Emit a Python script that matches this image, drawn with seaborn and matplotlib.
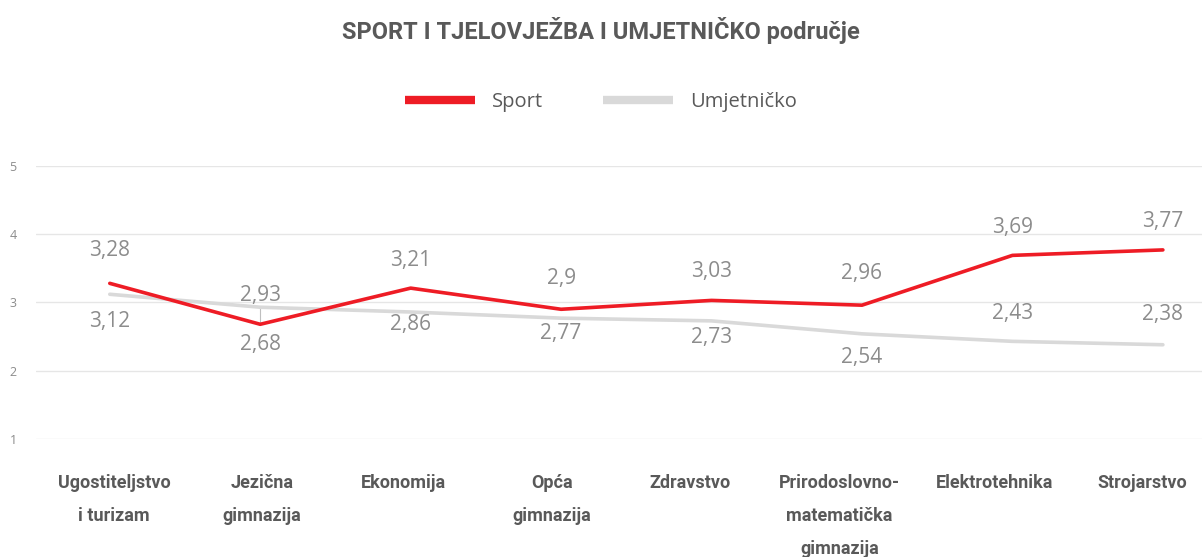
import pandas as pd
import matplotlib.pyplot as plt
import seaborn as sns
from matplotlib.lines import Line2D

# podaci
smjerovi = ['Ugostiteljstvo\ni turizam', 'Jezična\ngimnazija', 'Ekonomija', 'Opća\ngimnazija',
            'Zdravstvo', 'Prirodoslovno-\nmatematička\ngimnazija', 'Elektrotehnika', 'Strojarstvo']
sport = [3.28, 2.68, 3.21, 2.90, 3.03, 2.96, 3.69, 3.77]
umjetnicko = [3.12, 2.93, 2.86, 2.77, 2.73, 2.54, 2.43, 2.38]

# raspored: pomak oznaka (px, + iznad) i položaj natpisa na x osi
sport_pomak = [33, -20, 28, 31, 29, 32, 28, 28]
umj_pomak = [-27, 12, -12, -15, -17, -24, 28, 30]
natpisi_x = [0.03, 1.01, 1.95, 2.94, 3.86, 4.85, 5.88, 6.86]

df = pd.DataFrame({
    'x': list(range(len(smjerovi))) * 2,
    'vrijednost': sport + umjetnicko,
    'serija': ['Sport'] * len(sport) + ['Umjetničko'] * len(umjetnicko),
})

sns.set_theme(style='white')
plt.rcParams['font.family'] = ['Open Sans', 'DejaVu Sans']

crvena = '#EE1C25'
siva = '#D9D9D9'
tekst = '#595959'
oznake = '#8C8C8C'

fig = plt.figure(figsize=(12.02, 5.57), dpi=100)
ax = fig.add_axes([0.03, 0.212, 0.97, 0.49])

sns.lineplot(data=df, x='x', y='vrijednost', hue='serija',
             palette={'Sport': crvena, 'Umjetničko': siva},
             hue_order=['Umjetničko', 'Sport'],
             linewidth=2.6, legend=False, ax=ax)

ax.set_ylim(1, 5)
ax.set_xlim(-0.49, 7.26)
ax.set_yticks([1, 2, 3, 4, 5])
ax.yaxis.grid(True, color='#E6E6E6', linewidth=1)
ax.tick_params(axis='y', labelsize=9, colors='#8C8C8C', length=0, pad=14)
for s in ax.spines.values():
    s.set_visible(False)

ax.set_xticks(natpisi_x)
ax.set_xticklabels(smjerovi, fontsize=13, fontweight='bold', color=tekst,
                   family=['Liberation Sans Narrow', 'Roboto', 'DejaVu Sans'],
                   linespacing=2.1)
ax.tick_params(axis='x', length=0, pad=25)
ax.set_xlabel('')
ax.set_ylabel('')

# oznake vrijednosti
for vals, pomak in [(sport, sport_pomak), (umjetnicko, umj_pomak)]:
    for i, (v, p) in enumerate(zip(vals, pomak)):
        ax.annotate(f'{v:g}'.replace('.', ','), (i, v), xytext=(0, p * 0.72),
                    textcoords='offset points', ha='center', va='center',
                    fontsize=15, color=oznake)

# tanka spojnica kod Jezične gimnazije
ax.plot([1, 1], [sport[1], umjetnicko[1]], color='#BFBFBF', linewidth=0.8, zorder=0)

fig.text(0.5, 0.945, 'SPORT I TJELOVJEŽBA I UMJETNIČKO područje', ha='center', va='center',
         fontsize=17, fontweight='bold', color=tekst,
         family=['Liberation Sans Narrow', 'Roboto', 'DejaVu Sans'])

handles = [Line2D([], [], color=crvena, linewidth=6, solid_capstyle='butt'),
           Line2D([], [], color=siva, linewidth=6, solid_capstyle='butt')]
fig.legend(handles, ['Sport', 'Umjetničko'], loc='center', bbox_to_anchor=(0.5, 0.817),
           ncol=2, frameon=False, fontsize=14.5, labelcolor=tekst, handlelength=3.45,
           columnspacing=3, handletextpad=0.85)

fig.savefig('out.png', dpi=100)
